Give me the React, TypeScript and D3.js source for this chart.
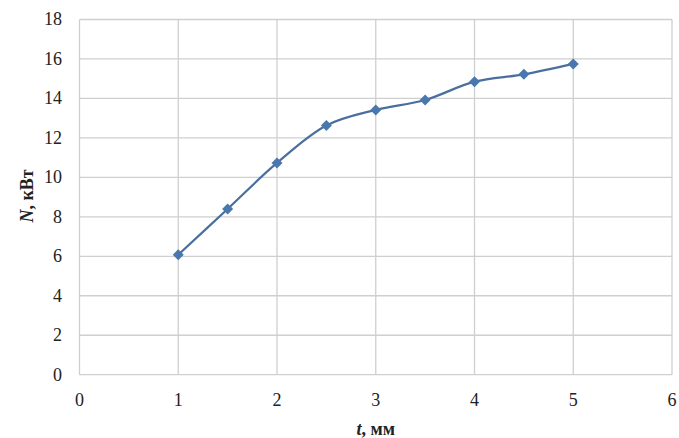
import React from "react";
import * as d3 from "d3";

const tValues = [1, 1.5, 2, 2.5, 3, 3.5, 4, 4.5, 5];
const nValues = [6.08, 8.4, 10.73, 12.63, 13.42, 13.92, 14.85, 15.22, 15.75];
const xTicks = [0, 1, 2, 3, 4, 5, 6];
const yTicks = [0, 2, 4, 6, 8, 10, 12, 14, 16, 18];

const W = 679, H = 438;
const M = { left: 79.5, right: 7, top: 19.5, bottom: 63.3 };

export default function App() {
  const x = d3.scaleLinear().domain([0, 6]).range([M.left, W - M.right]);
  const y = d3.scaleLinear().domain([0, 18]).range([H - M.bottom, M.top]);
  const pts: [number, number][] = tValues.map((t, i) => [x(t), y(nValues[i])]);
  const line = d3.line().curve(d3.curveCatmullRom.alpha(0.5))(pts) || "";
  const font = "Liberation Serif, serif";
  return (
    <svg width={W} height={H} style={{ position: "absolute", left: 0, top: 0 }} fontFamily={font}>
      <rect width={W} height={H} fill="#fff" />
      {yTicks.map((v) => (
        <line key={"gy" + v} x1={x(0)} x2={x(6)} y1={y(v)} y2={y(v)} stroke="#cfcfcf" strokeWidth={1.3} />
      ))}
      {xTicks.map((v) => (
        <line key={"gx" + v} x1={x(v)} x2={x(v)} y1={y(0)} y2={y(18)} stroke="#cfcfcf" strokeWidth={1.3} />
      ))}
      {yTicks.map((v) => (
        <text key={"ty" + v} x={62} y={y(v)} dy="0.33em" textAnchor="end" fontSize={18} fill="#222">{v}</text>
      ))}
      {xTicks.map((v) => (
        <text key={"tx" + v} x={x(v)} y={406} textAnchor="middle" fontSize={18} fill="#222">{v}</text>
      ))}
      <path d={line} fill="none" stroke="#4a6f9f" strokeWidth={2.2} />
      {pts.map(([px, py], i) => (
        <path key={"m" + i} d={`M${px},${py - 5.5}L${px + 5.5},${py}L${px},${py + 5.5}L${px - 5.5},${py}Z`} fill="#4a78ae" />
      ))}
      <text x={x(3)} y={435} textAnchor="middle" fontSize={18} fontWeight="bold" fill="#222">
        <tspan fontStyle="italic">t</tspan>, мм
      </text>
      <text transform={`translate(33,196) rotate(-90)`} textAnchor="middle" fontSize={18} fontWeight="bold" fill="#222">
        <tspan fontStyle="italic">N</tspan>, кВт
      </text>
    </svg>
  );
}
